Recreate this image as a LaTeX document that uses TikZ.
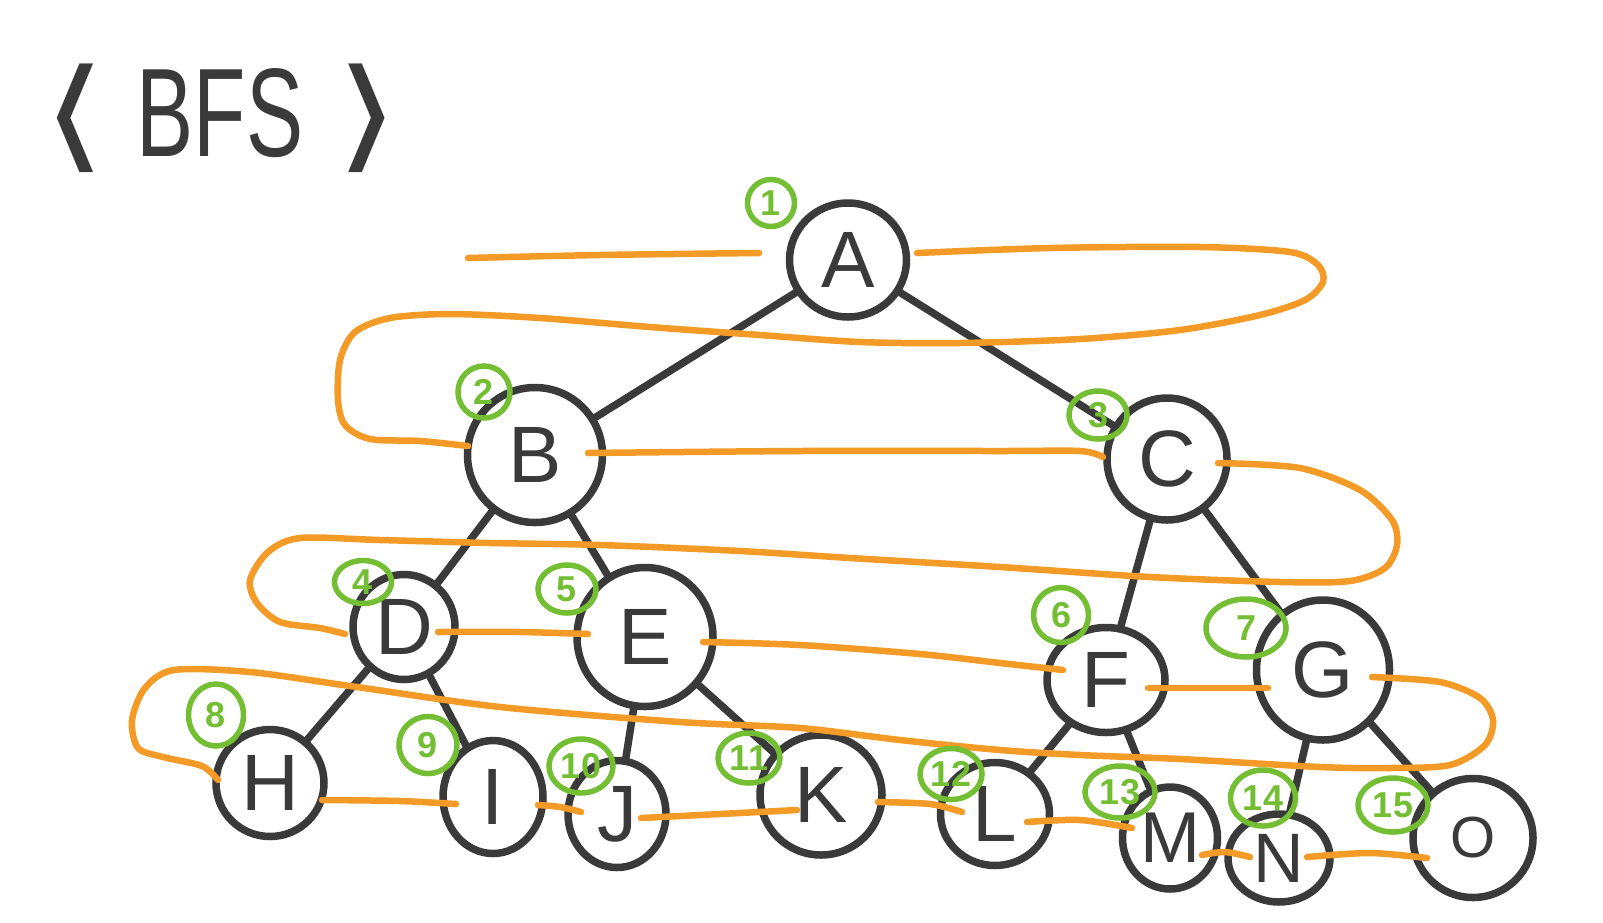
\documentclass[tikz,border=0pt]{standalone}
\usepackage{fontspec}
\usepackage{graphicx}
\setmainfont{Liberation Sans}
\newfontfamily\djv{DejaVu Sans}
\usetikzlibrary{shapes.geometric}
\definecolor{ink}{RGB}{58,58,58}
\definecolor{trail}{RGB}{243,155,38}
\definecolor{leaf}{RGB}{116,190,52}
\begin{document}
\begin{tikzpicture}[x=1pt,y=-1pt,
  treenode/.style={ellipse, draw=ink, line width=7.5pt, inner sep=0pt, text=ink, font=\fontsize{80}{80}\selectfont},
  tedge/.style={draw=ink, line width=7.5pt, line cap=round},
  trailpath/.style={draw=trail, line width=6.5pt, line cap=round, line join=round},
  order/.style={ellipse, draw=leaf, line width=5.5pt, inner sep=0pt, text=leaf, font=\fontsize{36}{36}\selectfont\bfseries}]
\useasboundingbox (0,0) rectangle (1603,922);
\fill[white] (0,0) rectangle (1603,922);

% title
\node[text=ink, font=\djv\fontsize{122}{122}\selectfont] (lb) at (75,118) {\scalebox{1.35}[1]{⟨}};
\node[text=ink, font=\fontsize{126}{126}\selectfont] (title) at (220,113) {\scalebox{0.68}[1]{BFS}};
\node[text=ink, font=\djv\fontsize{122}{122}\selectfont] (rb) at (368,118) {\scalebox{1.35}[1]{⟩}};

% tree nodes
\node[treenode, minimum width=117pt, minimum height=114pt] (A) at (848,260) {A};
\node[treenode, minimum width=135pt, minimum height=135pt] (B) at (535,455) {B};
\node[treenode, minimum width=120pt, minimum height=122pt] (C) at (1167,459) {C};
\node[treenode, minimum width=102pt, minimum height=105pt] (D) at (404,627) {D};
\node[treenode, minimum width=136pt, minimum height=139pt] (E) at (645,637) {E};
\node[treenode, minimum width=118pt, minimum height=105pt] (F) at (1106,680) {F};
\node[treenode, minimum width=133pt, minimum height=140pt] (G) at (1323,670) {G};
\node[treenode, minimum width=108pt, minimum height=107pt] (H) at (270,783) {H};
\node[treenode, minimum width=100pt, minimum height=113pt] (I) at (493,797) {I};
\node[treenode, minimum width=98pt, minimum height=107pt] (J) at (617,814) {J};
\node[treenode, minimum width=122pt, minimum height=120pt] (K) at (821,795) {K};
\node[treenode, minimum width=109pt, minimum height=103pt] (L) at (995,814) {L};
\node[treenode, minimum width=95pt, minimum height=102pt, font=\fontsize{72}{72}\selectfont] (M) at (1170,838) {M};
\node[treenode, minimum width=102pt, minimum height=88pt, font=\fontsize{70}{70}\selectfont] (N) at (1279,858) {N};
\node[treenode, minimum width=120pt, minimum height=119pt, font=\fontsize{58}{58}\selectfont] (O) at (1473,838) {O};

% tree edges
\draw[tedge] (A) -- (B);
\draw[tedge] (A) -- (C);
\draw[tedge] (B) -- (D);
\draw[tedge] (B) -- (E);
\draw[tedge] (C) -- (F);
\draw[tedge] (C) -- (G);
\draw[tedge] (D) -- (H);
\draw[tedge] (D) -- (I);
\draw[tedge] (E) -- (J);
\draw[tedge] (E) -- (K);
\draw[tedge] (F) -- (L);
\draw[tedge] (F) -- (M);
\draw[tedge] (G) -- (N);
\draw[tedge] (G) -- (O);

% BFS trail
\draw[trailpath] plot[smooth, tension=0.5] coordinates {(468,258) (600,255) (759,253)};
\draw[trailpath] plot[smooth, tension=0.5] coordinates {(917,253) (1050,248) (1200,247) (1290,252) (1318,265) (1323,282) (1305,300) (1260,315) (1180,330) (1080,339) (960,343) (860,342) (760,335) (650,327) (540,318) (450,314) (390,318) (355,332) (340,360) (338,400) (345,425) (370,439) (420,441) (468,446)};
\draw[trailpath] plot[smooth, tension=0.5] coordinates {(588,453) (800,451) (1000,451) (1080,451) (1103,457)};
\draw[trailpath] plot[smooth, tension=0.5] coordinates {(1218,463) (1300,468) (1360,490) (1392,520) (1397,545) (1385,568) (1350,581) (1280,582) (1150,577) (1000,567) (850,558) (740,551) (600,545) (490,543) (380,540) (300,538) (268,552) (250,580) (257,603) (280,622) (320,628) (345,634)};
\draw[trailpath] plot[smooth, tension=0.5] coordinates {(438,632) (520,632) (588,634)};
\draw[trailpath] plot[smooth, tension=0.5] coordinates {(703,642) (800,645) (920,654) (1000,663) (1063,670)};
\draw[trailpath] plot[smooth, tension=0.5] coordinates {(1148,688) (1210,688) (1268,688)};
\draw[trailpath] plot[smooth, tension=0.5] coordinates {(1372,677) (1440,682) (1480,698) (1493,720) (1485,745) (1450,765) (1390,768) (1320,767) (1180,759) (1080,755) (1000,750) (900,740) (800,728) (680,722) (500,707) (350,686) (250,672) (174,670) (145,688) (132,720) (138,748) (163,757) (202,766) (218,780)};
\draw[trailpath] plot[smooth, tension=0.5] coordinates {(322,800) (400,801) (456,804)};
\draw[trailpath] plot[smooth, tension=0.5] coordinates {(538,805) (560,807) (581,812)};
\draw[trailpath] plot[smooth, tension=0.5] coordinates {(641,818) (720,814) (797,810)};
\draw[trailpath] plot[smooth, tension=0.5] coordinates {(878,802) (930,804) (962,812)};
\draw[trailpath] plot[smooth, tension=0.5] coordinates {(1027,822) (1080,820) (1132,828)};
\draw[trailpath] plot[smooth, tension=0.5] coordinates {(1202,855) (1225,852) (1250,857)};
\draw[trailpath] plot[smooth, tension=0.5] coordinates {(1307,857) (1370,853) (1427,858)};

% visit order labels
\node[order, minimum width=47pt, minimum height=47pt] (n1) at (771,203) {1};
\node[order, minimum width=52pt, minimum height=52pt] (n2) at (484,392) {2};
\node[order, minimum width=58pt, minimum height=48pt] (n3) at (1098,415) {3};
\node[order, minimum width=57pt, minimum height=43pt] (n4) at (363,582) {4};
\node[order, minimum width=58pt, minimum height=48pt] (n5) at (567,589) {5};
\node[order, minimum width=55pt, minimum height=55pt] (n6) at (1061,615) {6};
\node[order, minimum width=80pt, minimum height=58pt] (n7) at (1246,628) {7};
\node[order, minimum width=55pt, minimum height=62pt] (n8) at (216,715) {8};
\node[order, minimum width=58pt, minimum height=57pt] (n9) at (428,745) {9};
\node[order, minimum width=64pt, minimum height=54pt] (n10) at (581,766) {10};
\node[order, minimum width=62pt, minimum height=50pt] (n11) at (749,758) {11};
\node[order, minimum width=62pt, minimum height=51pt] (n12) at (951,774) {12};
\node[order, minimum width=70pt, minimum height=52pt] (n13) at (1120,792) {13};
\node[order, minimum width=65pt, minimum height=56pt] (n14) at (1263,798) {14};
\node[order, minimum width=70pt, minimum height=54pt] (n15) at (1393,805) {15};
\end{tikzpicture}
\end{document}
